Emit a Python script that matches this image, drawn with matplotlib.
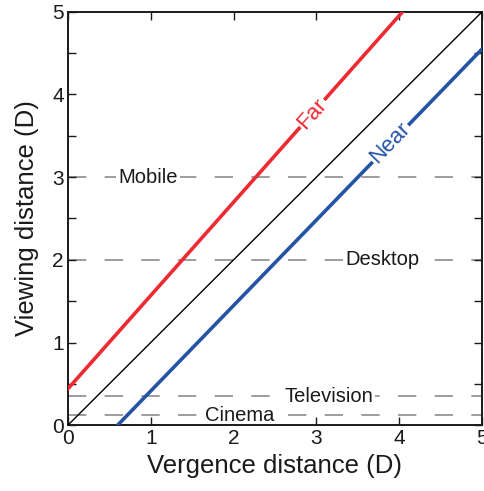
import numpy as np
import matplotlib.pyplot as plt

plt.rcParams['font.family'] = ['Liberation Sans', 'DejaVu Sans']

# zone of comfort boundaries
far_x = [0.0, 4.04]
far_y = [0.44, 5.0]
near_x = [0.6, 5.0]
near_y = [0.0, 4.55]
diag = [0.0, 5.0]

# typical viewing distances (D)
screens = ['Mobile', 'Desktop', 'Television', 'Cinema']
screen_d = [3.0, 2.0, 0.35, 0.12]
label_x = [0.97, 3.8, 3.15, 2.07]

red = '#ee2a33'
blue = '#2654a5'
ink = '#1a1a1a'

fig = plt.figure(figsize=(4.85, 4.91), dpi=100)
ax = fig.add_axes([0.140, 0.134, 0.854, 0.842])

for name, d, lx in zip(screens, screen_d, label_x):
    ax.axhline(d, color='#8c8c8c', lw=1.2, dashes=(11, 11), zorder=1)
    ax.text(lx, d, name, fontsize=14.5, ha='center', va='center', color=ink,
            bbox=dict(facecolor='white', edgecolor='none', pad=1.5), zorder=2)

ax.plot(diag, diag, color='black', lw=1.0, zorder=3)
ax.plot(far_x, far_y, color=red, lw=2.6, zorder=3)
ax.plot(near_x, near_y, color=blue, lw=2.6, zorder=3)

# labels along the lines
def angle(xs, ys):
    p = ax.transData.transform(np.column_stack([xs, ys]))
    return np.degrees(np.arctan2(p[1, 1] - p[0, 1], p[1, 0] - p[0, 0]))

ax.set_xlim(0, 5)
ax.set_ylim(0, 5)
ax.text(2.95, 3.77, 'Far', color=red, fontsize=16, ha='center', va='center',
        rotation=angle(far_x, far_y), rotation_mode='anchor',
        bbox=dict(facecolor='white', edgecolor='none', pad=1), zorder=4)
ax.text(3.89, 3.41, 'Near', color=blue, fontsize=16, ha='center', va='center',
        rotation=angle(near_x, near_y), rotation_mode='anchor',
        bbox=dict(facecolor='white', edgecolor='none', pad=1), zorder=4)

ax.set_xticks(range(6))
ax.set_yticks(range(6))
ax.set_yticks(np.arange(0.5, 5, 1), minor=True)
ax.tick_params(which='both', direction='in', top=True, right=True, labelsize=15,
               width=1.0, color=ink, labelcolor=ink)
ax.tick_params(which='major', length=6, pad=3)
ax.tick_params(which='minor', length=6)
for s in ax.spines.values():
    s.set_linewidth(1.4)
    s.set_color(ink)

ax.set_xlabel('Vergence distance (D)', fontsize=18.5, color=ink, labelpad=4)
ax.set_ylabel('Viewing distance (D)', fontsize=18.5, color=ink, labelpad=9)

fig.savefig('out.png', dpi=100)
